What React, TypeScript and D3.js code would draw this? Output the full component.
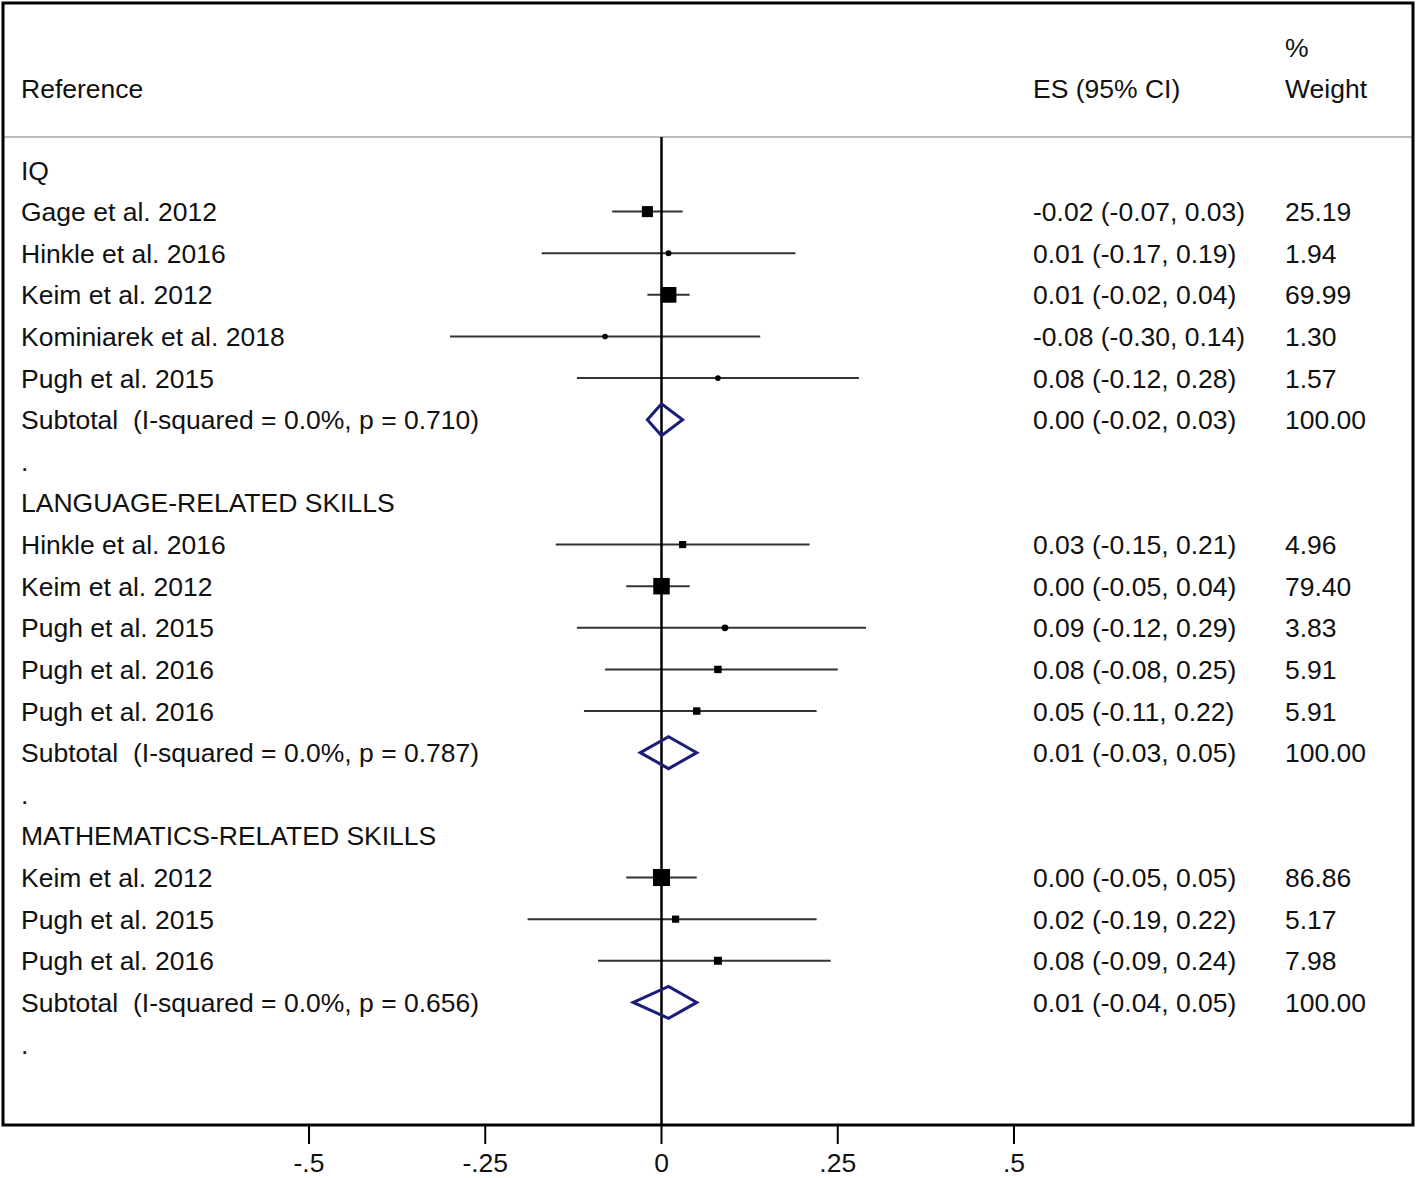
import * as d3 from "d3";

// rows of the forest plot, top to bottom
const labels = [
  "IQ",
  "Gage et al. 2012",
  "Hinkle et al. 2016",
  "Keim et al. 2012",
  "Kominiarek et al. 2018",
  "Pugh et al. 2015",
  "Subtotal  (I-squared = 0.0%, p = 0.710)",
  ".",
  "LANGUAGE-RELATED SKILLS",
  "Hinkle et al. 2016",
  "Keim et al. 2012",
  "Pugh et al. 2015",
  "Pugh et al. 2016",
  "Pugh et al. 2016",
  "Subtotal  (I-squared = 0.0%, p = 0.787)",
  ".",
  "MATHEMATICS-RELATED SKILLS",
  "Keim et al. 2012",
  "Pugh et al. 2015",
  "Pugh et al. 2016",
  "Subtotal  (I-squared = 0.0%, p = 0.656)",
  ".",
];

const kinds = [
  "group", "study", "study", "study", "study", "study", "subtotal", "blank",
  "group", "study", "study", "study", "study", "study", "subtotal", "blank",
  "group", "study", "study", "study", "subtotal", "blank",
];

const es = [
  null, -0.02, 0.01, 0.01, -0.08, 0.08, 0.0, null,
  null, 0.03, 0.0, 0.09, 0.08, 0.05, 0.01, null,
  null, 0.0, 0.02, 0.08, 0.01, null,
];
const ciLow = [
  null, -0.07, -0.17, -0.02, -0.3, -0.12, -0.02, null,
  null, -0.15, -0.05, -0.12, -0.08, -0.11, -0.03, null,
  null, -0.05, -0.19, -0.09, -0.04, null,
];
const ciHigh = [
  null, 0.03, 0.19, 0.04, 0.14, 0.28, 0.03, null,
  null, 0.21, 0.04, 0.29, 0.25, 0.22, 0.05, null,
  null, 0.05, 0.22, 0.24, 0.05, null,
];
const weights = [
  null, 25.19, 1.94, 69.99, 1.3, 1.57, 100.0, null,
  null, 4.96, 79.4, 3.83, 5.91, 5.91, 100.0, null,
  null, 86.86, 5.17, 7.98, 100.0, null,
];

const tickValues = [-0.5, -0.25, 0, 0.25, 0.5];
const tickLabels = ["-.5", "-.25", "0", ".25", ".5"];

const W = 1418;
const H = 1178;
const FONT = "'Liberation Sans', Arial, Helvetica, sans-serif";
const FS = 26.5;

export default function App() {
  const x = d3.scaleLinear().domain([-0.5, 0.5]).range([309, 1014]);
  const y = d3
    .scalePoint<number>()
    .domain(d3.range(labels.length))
    .range([170, 1044]);
  const box = d3.scaleSqrt().domain([0, 100]).range([4, 18]);
  // plain hyphen for negatives, like the original
  const f2 = d3.formatLocale({
    decimal: ".",
    thousands: ",",
    grouping: [3],
    currency: ["", ""],
    minus: "-",
  }).format(".2f");
  const fmt = (v: number) => f2(v).replace("-0.00", "0.00");
  // keep the double space after "Subtotal"
  const keepSpaces = (s: string) => s.replace(/  /g, " \u00a0");

  const frame = { l: 3, t: 3, r: 1413, b: 1125 };
  const sepY = 137;
  const colES = 1033;
  const colW = 1285;

  const rows = labels.map((lab, i) => ({
    i,
    lab,
    kind: kinds[i],
    es: es[i],
    lo: ciLow[i],
    hi: ciHigh[i],
    w: weights[i],
  }));
  const data = rows.filter((r) => r.es !== null);

  return (
    <div style={{ position: "absolute", left: 0, top: 0 }}>
      <svg width={W} height={H} style={{ display: "block", background: "#fff" }}>
        <g fontFamily={FONT} fontSize={FS} fill="#111">
          {/* header */}
          <text x={21} y={88} dy="0.36em">Reference</text>
          <text x={colES} y={88} dy="0.36em">ES (95% CI)</text>
          <text x={colW} y={47} dy="0.36em">%</text>
          <text x={colW} y={88} dy="0.36em">Weight</text>

          {rows.map((r) => (
            <text key={"l" + r.i} x={21} y={y(r.i)} dy="0.36em">
              {keepSpaces(r.lab)}
            </text>
          ))}
          {data.map((r) => (
            <g key={"v" + r.i}>
              <text x={colES} y={y(r.i)} dy="0.36em">
                {`${fmt(r.es as number)} (${fmt(r.lo as number)}, ${fmt(r.hi as number)})`}
              </text>
              <text x={colW} y={y(r.i)} dy="0.36em">
                {f2(r.w as number)}
              </text>
            </g>
          ))}
        </g>

        {/* separator under header */}
        <line x1={frame.l} x2={frame.r} y1={sepY} y2={sepY} stroke="#bdbdbd" strokeWidth={2} />

        {/* confidence intervals */}
        {data
          .filter((r) => r.kind === "study")
          .map((r) => (
            <line
              key={"ci" + r.i}
              x1={x(r.lo as number)}
              x2={x(r.hi as number)}
              y1={y(r.i)}
              y2={y(r.i)}
              stroke="#333"
              strokeWidth={2}
            />
          ))}

        {/* null line */}
        <line x1={x(0)} x2={x(0)} y1={sepY} y2={frame.b} stroke="#000" strokeWidth={2.5} />

        {/* study boxes */}
        {data
          .filter((r) => r.kind === "study")
          .map((r) => {
            const s = box(r.w as number);
            return (
              <rect
                key={"b" + r.i}
                x={x(r.es as number) - s / 2}
                y={(y(r.i) as number) - s / 2}
                width={s}
                height={s}
                rx={s < 7 ? s / 2 : 0}
                fill="#000"
              />
            );
          })}

        {/* subtotal diamonds */}
        {data
          .filter((r) => r.kind === "subtotal")
          .map((r) => {
            const cy = y(r.i) as number;
            const pts = [
              [x(r.lo as number), cy],
              [x(r.es as number), cy - 16],
              [x(r.hi as number), cy],
              [x(r.es as number), cy + 16],
            ];
            return (
              <polygon
                key={"d" + r.i}
                points={pts.map((p) => p.join(",")).join(" ")}
                fill="none"
                stroke="#1c1c7a"
                strokeWidth={3}
              />
            );
          })}

        {/* frame */}
        <rect
          x={frame.l}
          y={frame.t}
          width={frame.r - frame.l}
          height={frame.b - frame.t}
          fill="none"
          stroke="#000"
          strokeWidth={3}
        />

        {/* x axis */}
        <g fontFamily={FONT} fontSize={FS} fill="#111">
          {tickValues.map((v, k) => (
            <g key={"t" + k}>
              <line x1={x(v)} x2={x(v)} y1={frame.b} y2={frame.b + 19} stroke="#000" strokeWidth={2} />
              <text x={x(v)} y={1162} dy="0.36em" textAnchor="middle">
                {tickLabels[k]}
              </text>
            </g>
          ))}
        </g>
      </svg>
    </div>
  );
}
